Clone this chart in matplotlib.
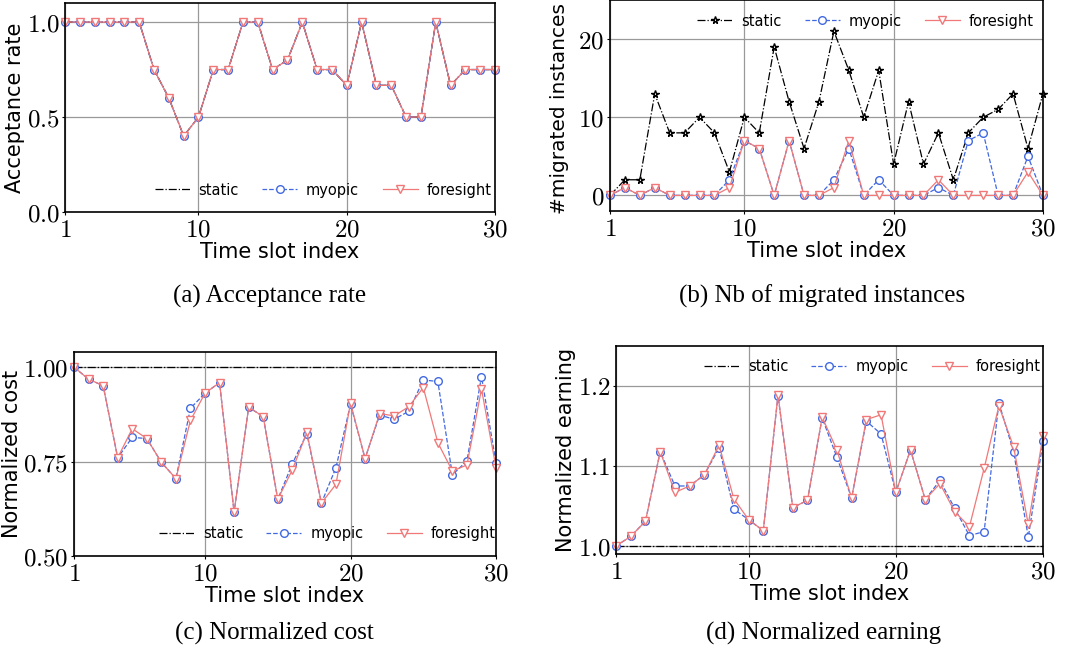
import numpy as np
import matplotlib.pyplot as plt
from matplotlib.ticker import FuncFormatter

plt.rcParams['mathtext.fontset'] = 'cm'

# time slots
slots = list(range(1, 31))

# (a) acceptance rate (all three policies give the same values)
accept = [1.0, 1.0, 1.0, 1.0, 1.0, 1.0, 0.75, 0.6, 0.4, 0.5,
          0.75, 0.75, 1.0, 1.0, 0.75, 0.8, 1.0, 0.75, 0.75, 0.667,
          1.0, 0.667, 0.667, 0.5, 0.5, 1.0, 0.667, 0.75, 0.75, 0.75]

# (b) number of migrated instances
mig_static = [0, 2, 2, 13, 8, 8, 10, 8, 3, 10,
              8, 19, 12, 6, 12, 21, 16, 10, 16, 4,
              12, 4, 8, 2, 8, 10, 11, 13, 6, 13]
mig_myopic = [0, 1, 0, 1, 0, 0, 0, 0, 2, 7,
              6, 0, 7, 0, 0, 2, 6, 0, 2, 0,
              0, 0, 1, 0, 7, 8, 0, 0, 5, 0]
mig_foresight = [0, 1, 0, 1, 0, 0, 0, 0, 1, 7,
                 6, 0, 7, 0, 0, 1, 7, 0, 0, 0,
                 0, 0, 2, 0, 0, 0, 0, 0, 3, 0]

# (c) normalized cost
cost_static = [1.0] * 30
cost_myopic = [1.0, 0.968, 0.951, 0.760, 0.814, 0.811, 0.748, 0.705, 0.891, 0.931,
               0.959, 0.616, 0.894, 0.869, 0.650, 0.744, 0.824, 0.640, 0.734, 0.902,
               0.758, 0.873, 0.862, 0.883, 0.966, 0.962, 0.715, 0.752, 0.975, 0.746]
cost_foresight = [1.0, 0.968, 0.951, 0.760, 0.837, 0.811, 0.748, 0.705, 0.859, 0.931,
                  0.959, 0.616, 0.894, 0.869, 0.650, 0.728, 0.827, 0.640, 0.690, 0.905,
                  0.758, 0.877, 0.871, 0.895, 0.946, 0.800, 0.725, 0.741, 0.942, 0.734]

# (d) normalized earning
earn_static = [1.0] * 30
earn_myopic = [1.0, 1.012, 1.031, 1.118, 1.075, 1.075, 1.089, 1.123, 1.046, 1.033,
               1.019, 1.188, 1.048, 1.057, 1.160, 1.111, 1.060, 1.156, 1.140, 1.067,
               1.120, 1.058, 1.082, 1.047, 1.013, 1.018, 1.179, 1.118, 1.011, 1.131]
earn_foresight = [1.0, 1.012, 1.031, 1.118, 1.067, 1.075, 1.089, 1.126, 1.059, 1.033,
                  1.019, 1.189, 1.048, 1.057, 1.161, 1.120, 1.060, 1.158, 1.164, 1.067,
                  1.120, 1.058, 1.078, 1.043, 1.024, 1.097, 1.175, 1.124, 1.027, 1.138]

captions = ['(a) Acceptance rate', '(b) Nb of migrated instances',
            '(c) Normalized cost', '(d) Normalized earning']

BLUE = '#4169e1'
RED = '#f07878'


def draw(ax, static, myopic, foresight, static_marker=None):
    ax.plot(slots, static, color='black', linestyle='-.', linewidth=0.9,
            marker=static_marker, markersize=5.5, markerfacecolor='white',
            markeredgecolor='black', label='static', clip_on=False)
    ax.plot(slots, myopic, color=BLUE, linestyle='--', linewidth=0.9,
            marker='o', markersize=5.5, markerfacecolor='white',
            markeredgecolor=BLUE, label='myopic', clip_on=False)
    ax.plot(slots, foresight, color=RED, linestyle='-', linewidth=0.9,
            marker='v', markersize=6, markerfacecolor='white',
            markeredgecolor=RED, label='foresight', clip_on=False)


def style(ax, ylabel, yticks, fmt, ylim, legend_xy, ylab_size=15):
    ax.set_xlim(1, 30)
    ax.set_ylim(*ylim)
    ax.set_xticks([1, 10, 20, 30])
    ax.set_yticks(yticks)
    ax.xaxis.set_major_formatter(FuncFormatter(lambda v, p: r'$%d$' % v))
    ax.yaxis.set_major_formatter(FuncFormatter(lambda v, p: '$' + fmt % v + '$'))
    ax.tick_params(labelsize=18, length=2, width=0.8, pad=2)
    ax.grid(True, color='#999999', linewidth=0.9)
    ax.set_axisbelow(True)
    for s in ax.spines.values():
        s.set_linewidth(1.2)
    ax.set_xlabel('Time slot index', fontsize=15, labelpad=0)
    ax.set_ylabel(ylabel, fontsize=ylab_size, labelpad=1)
    ax.legend(loc='center', bbox_to_anchor=legend_xy, ncol=3, frameon=False,
              fontsize=10.5, handlelength=2.4, columnspacing=1.6, handletextpad=0.6)


fig = plt.figure(figsize=(10.84, 6.57), dpi=100)
ax_a = fig.add_axes([0.0600, 0.6773, 0.3967, 0.318])
ax_b = fig.add_axes([0.5627, 0.6788, 0.3994, 0.3212])
ax_c = fig.add_axes([0.0683, 0.1537, 0.3893, 0.3105])
ax_d = fig.add_axes([0.5683, 0.1568, 0.3939, 0.3166])

draw(ax_a, accept, accept, accept)
style(ax_a, 'Acceptance rate', [0.0, 0.5, 1.0], '%.1f', (0, 1.1), (0.6, 0.105))

draw(ax_b, mig_static, mig_myopic, mig_foresight, static_marker='*')
style(ax_b, '#migrated instances', [0, 10, 20], '%d', (-2, 25), (0.59, 0.9),
      ylab_size=14.5)
ax_b.yaxis.set_label_coords(-0.095, 0.485)

draw(ax_c, cost_static, cost_myopic, cost_foresight)
style(ax_c, 'Normalized cost', [0.5, 0.75, 1.0], '%.2f', (0.5, 1.04), (0.6, 0.108))

draw(ax_d, earn_static, earn_myopic, earn_foresight)
style(ax_d, 'Normalized earning', [1.0, 1.1, 1.2], '%.1f', (0.99, 1.25), (0.6, 0.9))

cap_pos = [(0.249, 0.549), (0.758, 0.549), (0.253, 0.036), (0.760, 0.036)]
for (x, y), c in zip(cap_pos, captions):
    fig.text(x, y, c, ha='center', va='center', fontsize=18,
             family='Liberation Serif')

fig.savefig('out.png', dpi=100)
